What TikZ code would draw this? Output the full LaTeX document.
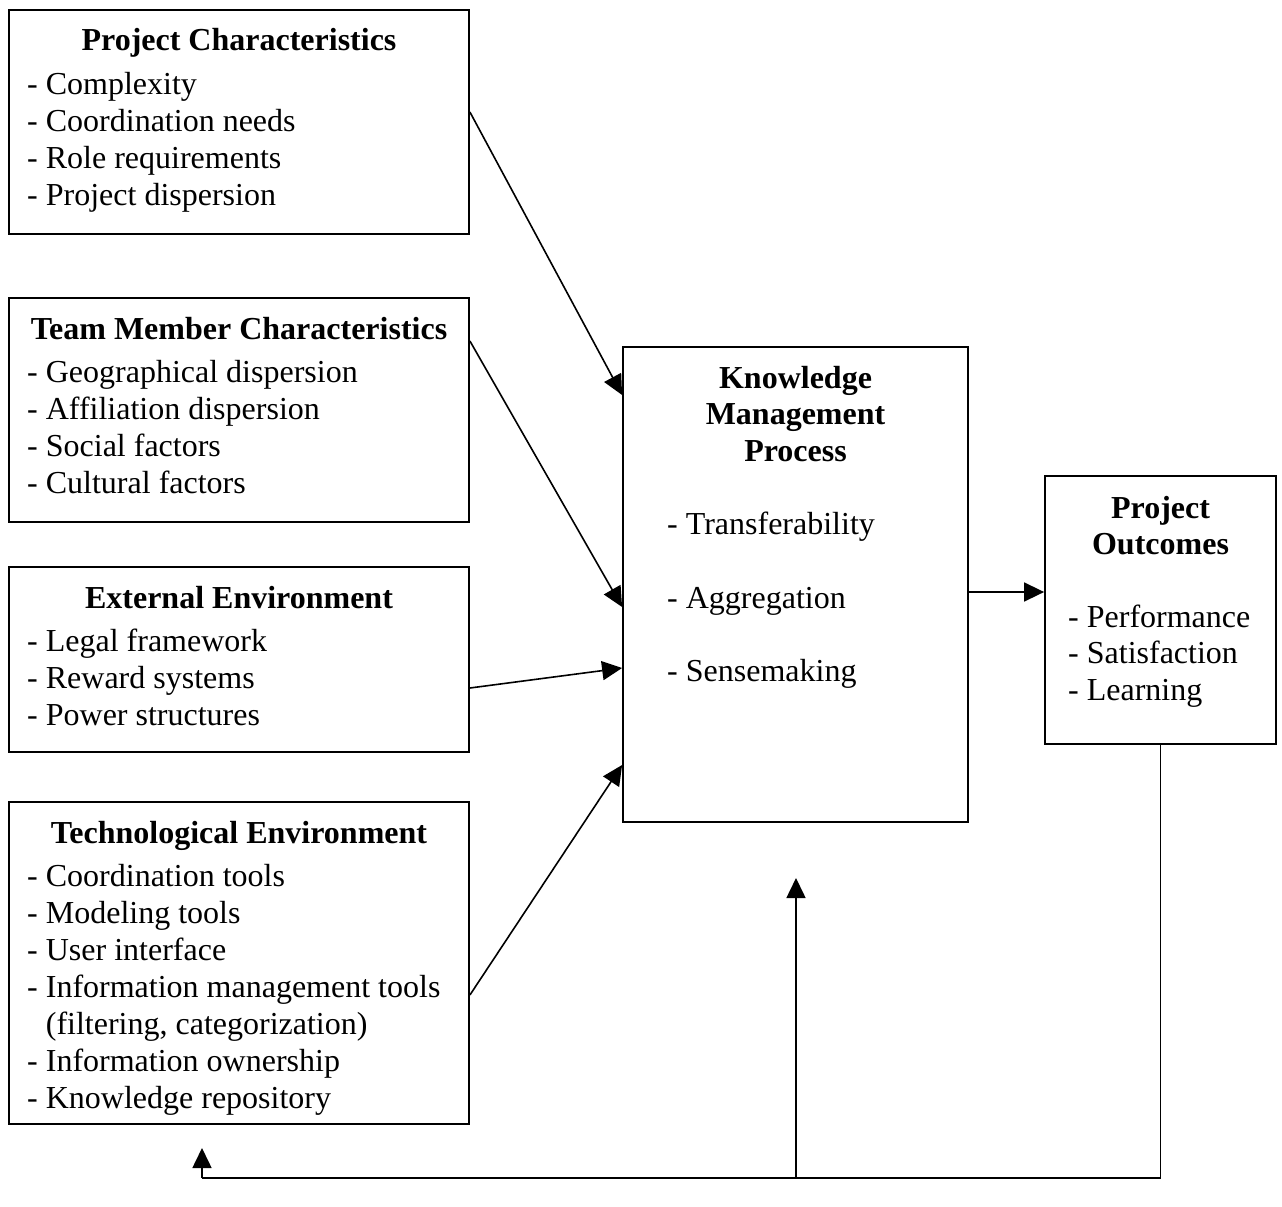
\documentclass[tikz,border=0pt]{standalone}
\usepackage{fontspec}
\setmainfont{Liberation Serif}
\usetikzlibrary{arrows.meta}
\tikzset{
  box/.style={draw, line width=1.8pt, inner sep=0pt, rectangle},
  item/.style={inner sep=0pt, anchor=base west, font=\fontsize{32}{37}\selectfont},
  ttl/.style={inner sep=0pt, anchor=base, font=\fontsize{32}{37}\selectfont\bfseries},
  conn/.style={line width=1.6pt},
  arr/.style={line width=1.6pt, -{Triangle[length=20pt,width=19pt]}}
}
\begin{document}
\begin{tikzpicture}[x=1pt,y=-1pt]
\useasboundingbox (0,0) rectangle (1282,1207);
% boxes
\node[box, minimum width=460pt, minimum height=224pt] (b1) at (239,122) {};
\node[box, minimum width=460pt, minimum height=224pt] (b2) at (239,410) {};
\node[box, minimum width=460pt, minimum height=185pt] (b3) at (239,659.5) {};
\node[box, minimum width=460pt, minimum height=322pt] (b4) at (239,963) {};
\node[box, minimum width=345pt, minimum height=475pt] (km) at (795.5,584.5) {};
\node[box, minimum width=231pt, minimum height=268pt] (po) at (1160.5,610) {};
% box 1
\node[ttl] (t1) at (239,51) {Project Characteristics};
\node[item] (t1a) at (27,94) {- Complexity};
\node[item] (t1b) at (27,131) {- Coordination needs};
\node[item] (t1c) at (27,168) {- Role requirements};
\node[item] (t1d) at (27,205) {- Project dispersion};
% box 2
\node[ttl] (t2) at (239,339) {Team Member Characteristics};
\node[item] (t2a) at (27,382) {- Geographical dispersion};
\node[item] (t2b) at (27,419) {- Affiliation dispersion};
\node[item] (t2c) at (27,456) {- Social factors};
\node[item] (t2d) at (27,493) {- Cultural factors};
% box 3
\node[ttl] (t3) at (239,608) {External Environment};
\node[item] (t3a) at (27,651) {- Legal framework};
\node[item] (t3b) at (27,688) {- Reward systems};
\node[item] (t3c) at (27,725) {- Power structures};
% box 4
\node[ttl] (t4) at (239,843) {Technological Environment};
\node[item] (t4a) at (27,886) {- Coordination tools};
\node[item] (t4b) at (27,923) {- Modeling tools};
\node[item] (t4c) at (27,960) {- User interface};
\node[item] (t4d) at (27,997) {- Information management tools};
\node[item] (t4e) at (27,1034) {\phantom{- }(filtering, categorization)};
\node[item] (t4f) at (27,1071) {- Information ownership};
\node[item] (t4g) at (27,1108) {- Knowledge repository};
% KM box
\node[ttl] (k1) at (795.5,388) {Knowledge};
\node[ttl] (k2) at (795.5,424) {Management};
\node[ttl] (k3) at (795.5,461) {Process};
\node[item] (k4) at (667,534) {- Transferability};
\node[item] (k5) at (667,608) {- Aggregation};
\node[item] (k6) at (667,681) {- Sensemaking};
% Project outcomes
\node[ttl] (p1) at (1160.5,518) {Project};
\node[ttl] (p2) at (1160.5,554) {Outcomes};
\node[item] (p3) at (1068,627) {- Performance};
\node[item] (p4) at (1068,663) {- Satisfaction};
\node[item] (p5) at (1068,700) {- Learning};
% connectors
\draw[arr] ([yshift=10pt]b1.east) -- ([yshift=189.5pt]km.west);
\draw[arr] ([yshift=69pt]b2.east) -- ([yshift=-22.5pt]km.west);
\draw[arr] ([yshift=-28.5pt]b3.east) -- ([yshift=-83.5pt]km.west);
\draw[arr] ([yshift=-32pt]b4.east) -- ([yshift=-180.5pt]km.west);
\coordinate (r1) at ([yshift=-7.5pt]km.east);
\draw[arr] (r1) -- (r1 -| po.west);
% feedback
\coordinate (fbl) at (202,1178);
\coordinate (fbm) at (796,1178);
\coordinate (tipl) at (202,1148);
\coordinate (tipm) at (796,878);
\draw[conn] (po.south) |- (fbl);
\draw[arr] (fbl) -- (tipl);
\draw[arr] (fbm) -- (tipm);
\end{tikzpicture}
\end{document}
